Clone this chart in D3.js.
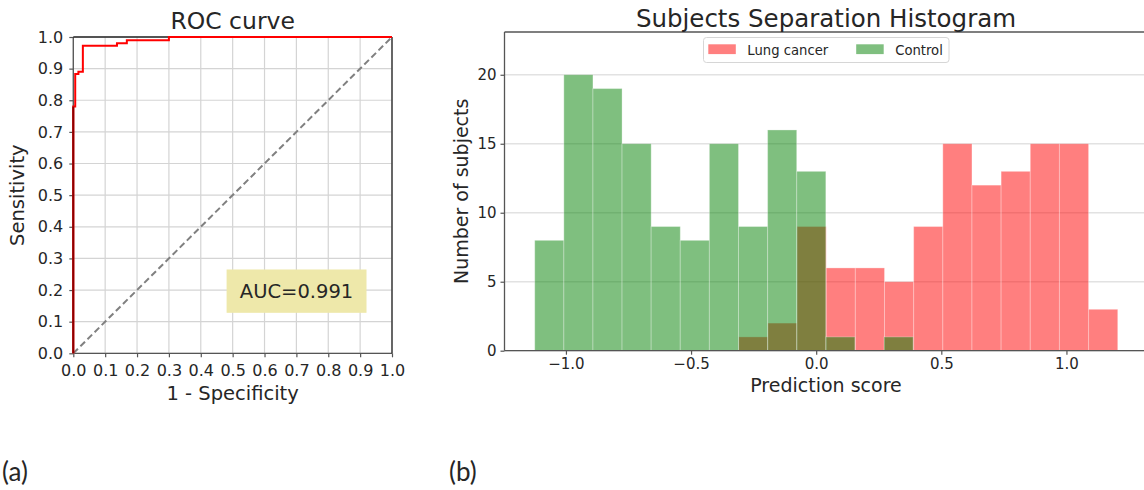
<!DOCTYPE html>
<html><head><meta charset="utf-8">
<script src="https://cdn.jsdelivr.net/npm/d3@7"></script>
<style>
body{margin:0;background:#fff;}
svg{display:block;}
text{font-family:"DejaVu Sans",sans-serif;fill:#262626;}
</style></head>
<body>
<svg id="c" width="1144" height="490"></svg>
<script>
// ---------- data ----------
const rocFpr = [0, 0, 0.006, 0.006, 0.016, 0.016, 0.03, 0.03, 0.137, 0.137, 0.168, 0.168, 0.3, 0.3, 1.0];
const rocTpr = [0, 0.78, 0.78, 0.883, 0.883, 0.89, 0.89, 0.972, 0.972, 0.98, 0.98, 0.99, 0.99, 1.0, 1.0];
const rocTicks = [0,0.1,0.2,0.3,0.4,0.5,0.6,0.7,0.8,0.9,1.0];
const aucLabel = "AUC=0.991";

const controlCounts = [8, 20, 19, 15, 9, 8, 15, 9, 16, 13, 1, 0, 1];
const controlBinStart = -1.1247, controlBinWidth = 0.11632;
const cancerCounts = [1, 2, 9, 6, 6, 5, 9, 15, 12, 13, 15, 15, 3];
const cancerBinStart = -0.3095, cancerBinWidth = 0.1165;
const histXTicks = [-1.0, -0.5, 0.0, 0.5, 1.0];
const histYTicks = [0, 5, 10, 15, 20];
const legendLabels = ["Lung cancer", "Control"];

const svg = d3.select("#c");
const dark = "#555";

// ---------- ROC panel ----------
const rx = d3.scaleLinear().domain([0,1]).range([73.3,392]);
const ry = d3.scaleLinear().domain([0,1]).range([353.3,37]);
const roc = svg.append("g");
// grid
roc.selectAll(".gx").data(rocTicks).join("line")
  .attr("x1",d=>rx(d)).attr("x2",d=>rx(d)).attr("y1",ry(0)).attr("y2",ry(1))
  .attr("stroke","#d4d4d4").attr("stroke-width",1.2);
roc.selectAll(".gy").data(rocTicks).join("line")
  .attr("y1",d=>ry(d)).attr("y2",d=>ry(d)).attr("x1",rx(0)).attr("x2",rx(1))
  .attr("stroke","#d4d4d4").attr("stroke-width",1.2);
// axes
const rax = roc.append("g").attr("transform",`translate(0,${ry(0)})`)
  .call(d3.axisBottom(rx).tickValues(rocTicks).tickFormat(d3.format(".1f")).tickSize(4).tickPadding(7));
const ray = roc.append("g").attr("transform",`translate(${rx(0)},0)`)
  .call(d3.axisLeft(ry).tickValues(rocTicks).tickFormat(d3.format(".1f")).tickSize(4).tickPadding(6));
[rax,ray].forEach(a=>{
  a.select(".domain").remove();
  a.selectAll("line").attr("stroke",dark).attr("stroke-width",1.2);
  a.selectAll("text").attr("font-size","16px").attr("fill","#262626").attr("font-family","DejaVu Sans");
});
// spines
roc.append("line").attr("x1",rx(0)).attr("x2",rx(1)).attr("y1",ry(0)).attr("y2",ry(0)).attr("stroke",dark).attr("stroke-width",1.3);
roc.append("line").attr("x1",rx(0)).attr("x2",rx(0)).attr("y1",ry(0)).attr("y2",ry(1)).attr("stroke",dark).attr("stroke-width",1.3);
roc.append("line").attr("x1",rx(0)).attr("x2",rx(1)).attr("y1",ry(1)).attr("y2",ry(1)).attr("stroke","#222").attr("stroke-width",1.3);
roc.append("line").attr("x1",rx(1)).attr("x2",rx(1)).attr("y1",ry(0)).attr("y2",ry(1)).attr("stroke","#222").attr("stroke-width",1.3);
// diagonal
roc.append("path").attr("d",d3.line()([[rx(0),ry(0)],[rx(1),ry(1)]]))
  .attr("stroke","#808080").attr("stroke-width",2).attr("stroke-dasharray","6.5,3.5").attr("fill","none");
// curve
const rocPts = rocFpr.map((f,i)=>[f,rocTpr[i]]);
roc.append("path").datum(rocPts)
  .attr("d",d3.line().x(d=>rx(d[0])).y(d=>ry(d[1])))
  .attr("stroke","#ff0000").attr("stroke-width",2).attr("fill","none");
roc.append("line").attr("x1",rx(0)).attr("x2",rx(0)).attr("y1",ry(0)).attr("y2",ry(0.78))
  .attr("stroke","#8b0000").attr("stroke-width",2);
// AUC box
roc.append("rect").attr("x",rx(0.481)).attr("y",ry(0.265)).attr("width",rx(0.92)-rx(0.481)).attr("height",ry(0.128)-ry(0.265))
  .attr("fill","#eee8aa");
roc.append("text").attr("x",(rx(0.481)+rx(0.92))/2).attr("y",ry(0.196)+7).attr("text-anchor","middle")
  .attr("font-size","19.5px").text(aucLabel);
// labels
roc.append("text").attr("x",(rx(0)+rx(1))/2).attr("y",29).attr("text-anchor","middle").attr("font-size","23.5px").text("ROC curve");
roc.append("text").attr("x",(rx(0)+rx(1))/2).attr("y",400).attr("text-anchor","middle").attr("font-size","19.5px").text("1 - Specificity");
roc.append("text").attr("transform",`translate(24,${(ry(0)+ry(1))/2}) rotate(-90)`).attr("text-anchor","middle").attr("font-size","19.5px").text("Sensitivity");

// ---------- Histogram panel ----------
const hx = d3.scaleLinear().domain([-1.2455, 1.33]).range([504.5, 504.5+2.5755*250.25]);
const hy = d3.scaleLinear().domain([0, 23.1]).range([350.7, 32]);
const hist = svg.append("g");
const clipW = 1144;
// grid
hist.selectAll(".hg").data(histYTicks).join("line")
  .attr("x1",hx.range()[0]).attr("x2",clipW).attr("y1",d=>hy(d)).attr("y2",d=>hy(d))
  .attr("stroke","#e2e2e2").attr("stroke-width",1.6);
// bars
function bins(counts,start,width){
  return counts.map((c,i)=>({x0:start+i*width,x1:start+(i+1)*width,c}));
}
const cancerBins = bins(cancerCounts,cancerBinStart,cancerBinWidth);
const controlBins = bins(controlCounts,controlBinStart,controlBinWidth);
hist.append("g").selectAll("rect").data(cancerBins.filter(d=>d.c>0)).join("rect")
  .attr("x",d=>hx(d.x0)).attr("width",d=>hx(d.x1)-hx(d.x0))
  .attr("y",d=>hy(d.c)).attr("height",d=>hy(0)-hy(d.c))
  .attr("fill","#ff0000").attr("fill-opacity",0.5).attr("stroke","#fff").attr("stroke-opacity",0.3).attr("stroke-width",1);
hist.append("g").selectAll("rect").data(controlBins.filter(d=>d.c>0)).join("rect")
  .attr("x",d=>hx(d.x0)).attr("width",d=>hx(d.x1)-hx(d.x0))
  .attr("y",d=>hy(d.c)).attr("height",d=>hy(0)-hy(d.c))
  .attr("fill","#008000").attr("fill-opacity",0.5).attr("stroke","#fff").attr("stroke-opacity",0.3).attr("stroke-width",1);
// axes
const hax = hist.append("g").attr("transform",`translate(0,${hy(0)})`)
  .call(d3.axisBottom(hx).tickValues(histXTicks).tickFormat(d3.format(".1f")).tickSize(4).tickPadding(4));
const hay = hist.append("g").attr("transform",`translate(${hx.range()[0]},0)`)
  .call(d3.axisLeft(hy).tickValues(histYTicks).tickSize(4).tickPadding(4));
[hax,hay].forEach(a=>{
  a.select(".domain").remove();
  a.selectAll("line").attr("stroke",dark).attr("stroke-width",1.2);
  a.selectAll("text").attr("font-size","15px").attr("fill","#262626").attr("font-family","DejaVu Sans");
});
// spines
hist.append("line").attr("x1",hx.range()[0]).attr("x2",clipW).attr("y1",hy(0)).attr("y2",hy(0)).attr("stroke",dark).attr("stroke-width",1.3);
hist.append("line").attr("x1",hx.range()[0]).attr("x2",clipW).attr("y1",hy.range()[1]).attr("y2",hy.range()[1]).attr("stroke",dark).attr("stroke-width",1.3);
hist.append("line").attr("x1",hx.range()[0]).attr("x2",hx.range()[0]).attr("y1",hy(0)).attr("y2",hy.range()[1]).attr("stroke",dark).attr("stroke-width",1.3);
// legend
const lg = hist.append("g");
lg.append("rect").attr("x",703.5).attr("y",37.5).attr("width",245.5).attr("height",25).attr("rx",3)
  .attr("fill","#fff").attr("fill-opacity",0.85).attr("stroke","#d6d6d6").attr("stroke-width",1);
const legColors = ["#ff0000","#008000"];
const legX = [708.3, 856.2];
legendLabels.forEach((t,i)=>{
  lg.append("rect").attr("x",legX[i]).attr("y",44.3).attr("width",27.5).attr("height",9.8)
    .attr("fill",legColors[i]).attr("fill-opacity",0.5);
  lg.append("text").attr("x",legX[i]+39).attr("y",54.6).attr("font-size","13.2px").text(t);
});
// labels
hist.append("text").attr("x",826).attr("y",27).attr("text-anchor","middle").attr("font-size","24.5px").text("Subjects Separation Histogram");
hist.append("text").attr("x",826).attr("y",392).attr("text-anchor","middle").attr("font-size","19px").text("Prediction score");
hist.append("text").attr("transform",`translate(468,${(hy(0)+hy.range()[1])/2}) rotate(-90)`).attr("text-anchor","middle").attr("font-size","19px").text("Number of subjects");

// panel letters
svg.append("text").attr("x",2).attr("y",481).attr("font-size","26px").style("font-family","Lato, 'Open Sans', sans-serif").text("(a)");
svg.append("text").attr("x",449).attr("y",481).attr("font-size","26px").style("font-family","Lato, 'Open Sans', sans-serif").text("(b)");
</script>
</body></html>
